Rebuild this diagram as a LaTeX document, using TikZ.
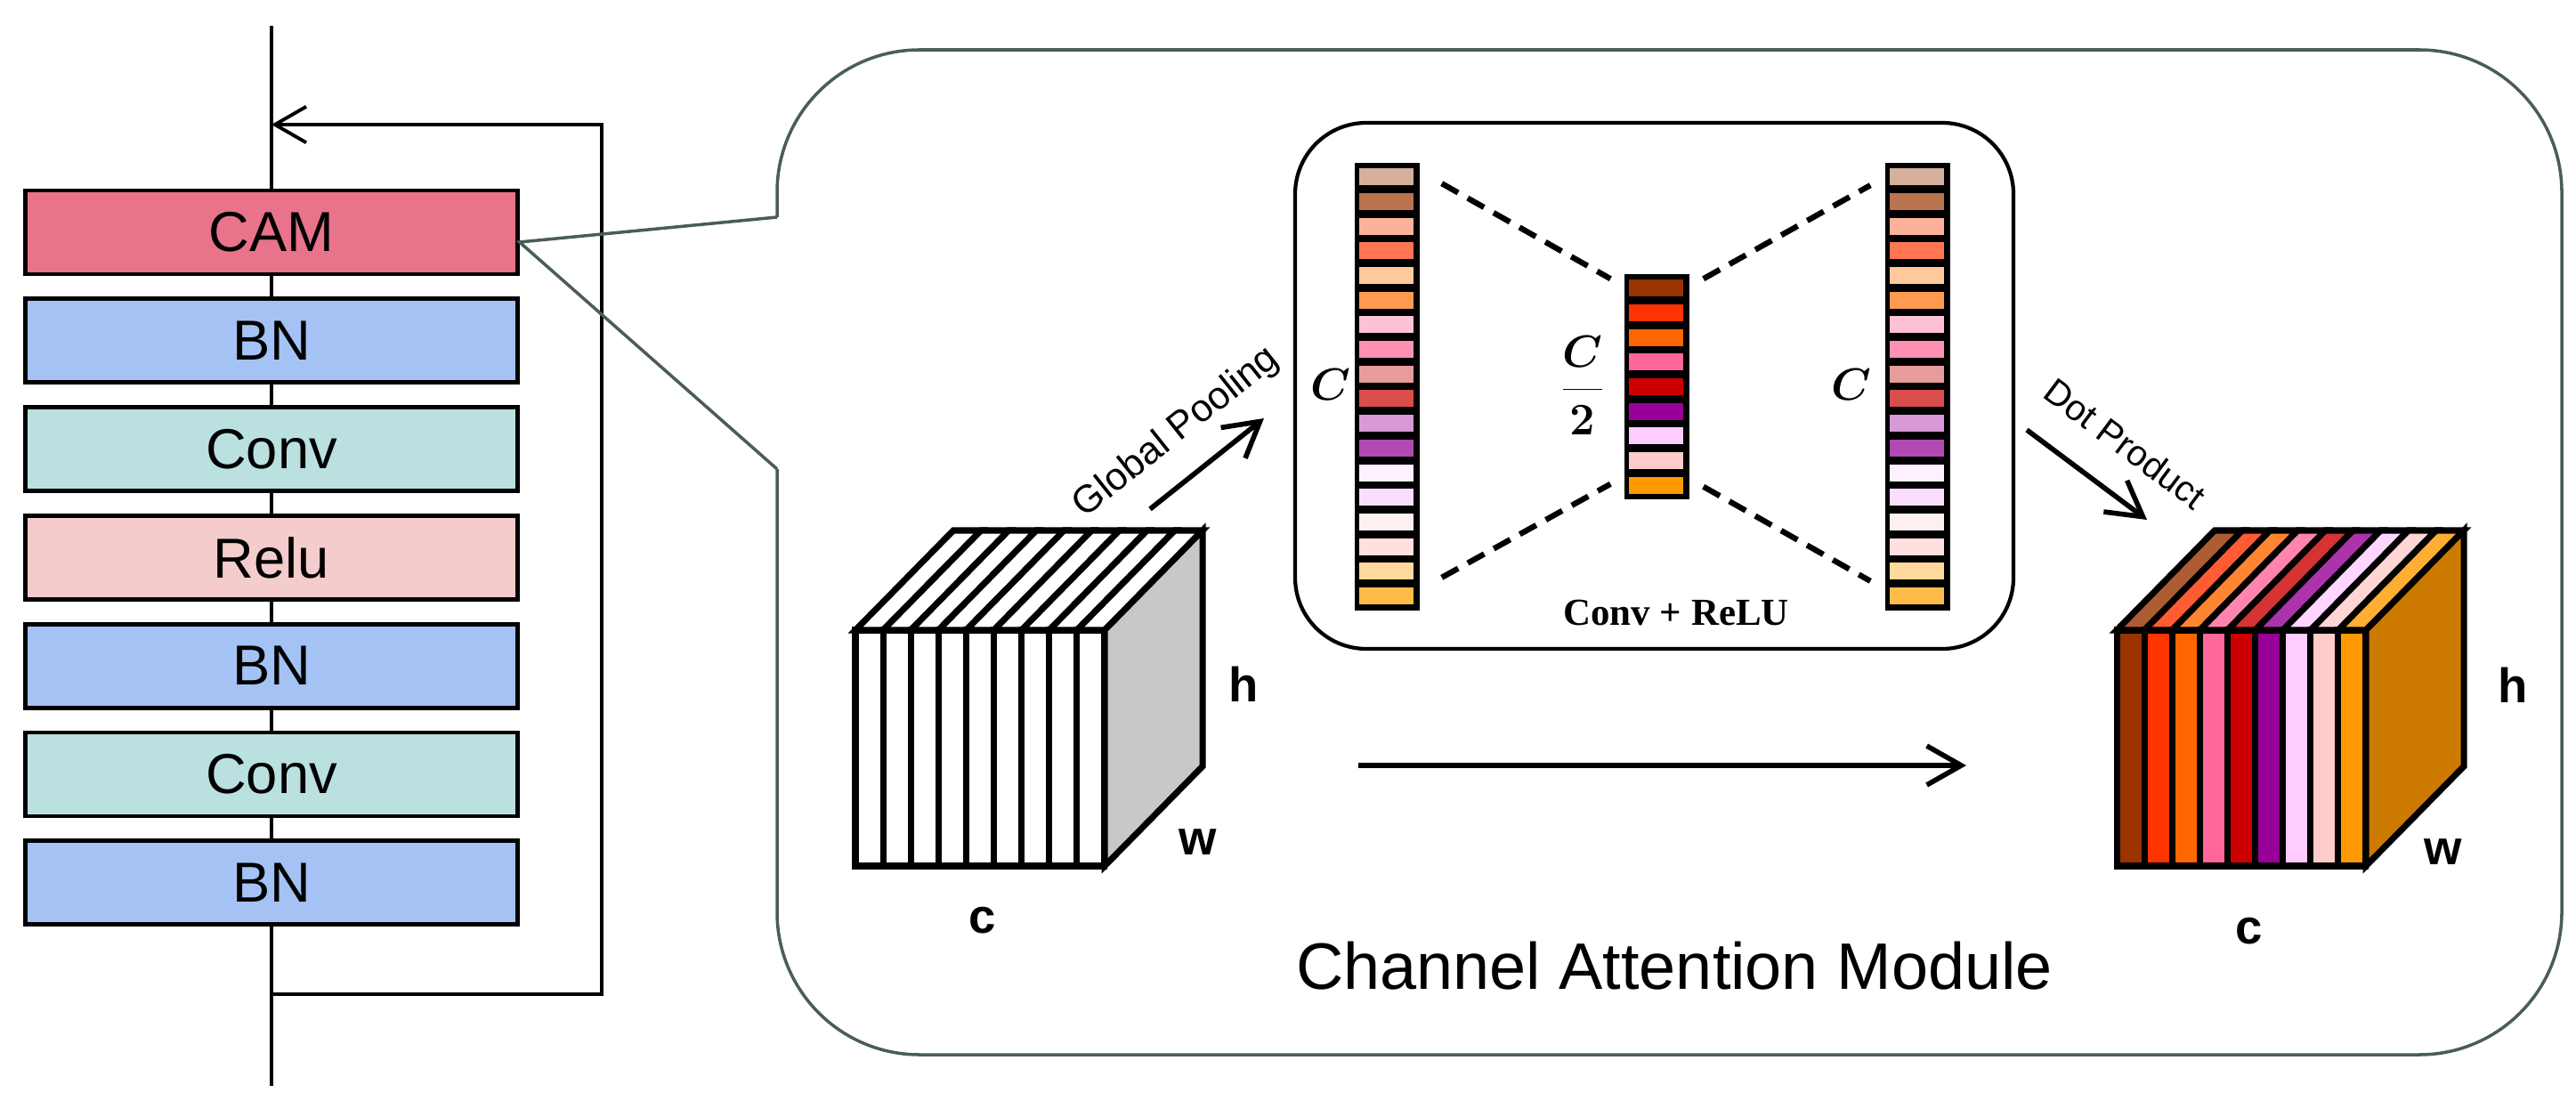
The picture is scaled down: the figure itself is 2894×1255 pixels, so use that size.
\documentclass[tikz,border=0pt]{standalone}
\usepackage{fontspec}
\setmainfont{Liberation Sans}
\newfontfamily\serifbold{Liberation Serif}
\usetikzlibrary{arrows.meta,calc}

\definecolor{camred}{HTML}{E8738A}
\definecolor{bnblue}{HTML}{A4C2F4}
\definecolor{convteal}{HTML}{BAE1E0}
\definecolor{relupink}{HTML}{F4CCCC}
\definecolor{calloutgray}{HTML}{4A5C5C}
\definecolor{sidegray}{HTML}{C8C8C8}
\definecolor{sideorange}{HTML}{CC7A00}
% channel colours, long bars
\definecolor{lc1}{HTML}{D5B09C}
\definecolor{lc2}{HTML}{B9734F}
\definecolor{lc3}{HTML}{FCB19B}
\definecolor{lc4}{HTML}{FF7650}
\definecolor{lc5}{HTML}{FFC99B}
\definecolor{lc6}{HTML}{FF9A50}
\definecolor{lc7}{HTML}{FFC1D5}
\definecolor{lc8}{HTML}{FF91B2}
\definecolor{lc9}{HTML}{E89B9B}
\definecolor{lc10}{HTML}{DA4D4D}
\definecolor{lc11}{HTML}{D79AD7}
\definecolor{lc12}{HTML}{B04AB2}
\definecolor{lc13}{HTML}{FFF0FF}
\definecolor{lc14}{HTML}{FCDEFC}
\definecolor{lc15}{HTML}{FFF0F0}
\definecolor{lc16}{HTML}{FFDFDF}
\definecolor{lc17}{HTML}{FFDA9C}
\definecolor{lc18}{HTML}{FFBB4A}
% channel colours, short bar and output
\definecolor{mc1}{HTML}{993300}
\definecolor{mc2}{HTML}{FF3300}
\definecolor{mc3}{HTML}{FF6600}
\definecolor{mc4}{HTML}{FF6699}
\definecolor{mc5}{HTML}{CC0000}
\definecolor{mc6}{HTML}{990099}
\definecolor{mc7}{HTML}{FFCCFF}
\definecolor{mc8}{HTML}{FFCCCC}
\definecolor{mc9}{HTML}{FF9900}

\begin{document}
\begin{tikzpicture}[x=0.01cm,y=-0.01cm,
  layer/.style={draw,line width=1.4pt,minimum width=5.52cm,minimum height=0.94cm,inner sep=0pt,font=\fontsize{18}{18}\selectfont},
  flow/.style={line width=1.1pt},
  arr/.style={line width=1.6pt,-{Straight Barb[length=11pt,width=12.5pt]}},
  bar/.style={fill=black,minimum width=0.73cm,inner sep=0pt},
  dashline/.style={line width=1.8pt,dash pattern=on 6pt off 3.5pt},
  cube/.style={draw,line width=2pt,line join=miter},
  dim/.style={font=\bfseries\fontsize{15.5}{16}\selectfont},
  chan/.style={font=\fontsize{14.5}{16}\selectfont\boldmath}]
\useasboundingbox (0,0) rectangle (2894,1255);

% residual block
\foreach \n/\t/\c [count=\i from 0] in {cam/CAM/camred,bn1/BN/bnblue,cv1/Conv/convteal,relu/Relu/relupink,bn2/BN/bnblue,cv2/Conv/convteal,bn3/BN/bnblue}
  \node[layer,fill=\c] (\n) at (305,{261+121.8*\i}) {\t};
\coordinate (in) at (305,29);
\coordinate (out) at (305,1220);
\coordinate (split) at (305,1117);
\coordinate (merge) at (305,140);
\coordinate (fbr) at (676,140);
\draw[flow] (in) -- (cam) -- (bn1) -- (cv1) -- (relu) -- (bn2) -- (cv2) -- (bn3) -- (out);
\draw[flow,-{Straight Barb[length=10pt,width=11.5pt]}] (split) -| (fbr) -- (merge);

% callout
\coordinate (cs) at ($(cam.east)+(0,11)$);
\coordinate (notchtop) at (873,244);
\coordinate (notchbot) at (873,527);
\draw[calloutgray,line width=1pt,rounded corners=1.6cm] (notchtop) -- (873,56) -- (2878,56) -- (2878,1185) -- (873,1185) -- (notchbot);
\draw[calloutgray,line width=1pt] (notchtop) -- (cs) -- (notchbot);

% conv + relu box
\draw[line width=1.2pt,rounded corners=0.8cm] (1455,138) rectangle (2262,729);
\node[bar,minimum height=5.03cm] (lbar) at (1558.5,434.5) {};
\node[bar,minimum height=5.03cm] (rbar) at (2154.5,434.5) {};
\node[bar,minimum height=2.53cm] (mbar) at (1861.5,434.5) {};
\foreach \i in {1,...,18} {
  \fill[lc\i] ($(lbar.north west)+(6,{7+27.7*(\i-1)})$) rectangle ++(61,19);
  \fill[lc\i] ($(rbar.north west)+(6,{7+27.7*(\i-1)})$) rectangle ++(61,19);
}
\foreach \i in {1,...,9}
  \fill[mc\i] ($(mbar.north west)+(6,{7+27.7*(\i-1)})$) rectangle ++(61,19);
\draw[dashline] ($(lbar.north east)+(24,24)$) -- ($(mbar.north west)+(-15,6)$);
\draw[dashline] ($(mbar.north east)+(15,6)$) -- ($(rbar.north west)+(-16,26)$);
\draw[dashline] ($(lbar.south east)+(24,-38)$) -- ($(mbar.south west)+(-15,-18)$);
\draw[dashline] ($(mbar.south east)+(15,-15)$) -- ($(rbar.south west)+(-16,-34)$);
\node[chan] (cl) at (1495,432) {$C$};
\node[chan] (cr) at (2080,432) {$C$};
\node[chan] (chalf) at (1778,433) {$\displaystyle\frac{C}{2}$};
\node[font=\serifbold\bfseries\fontsize{12.2}{14}\selectfont] (convrelu) at (1883,689) {Conv + ReLU};

% input feature map
\begin{scope}[shift={(961,973)}]
  \foreach \i in {0,...,8} {
    \filldraw[cube,fill=white] ({31.1*\i},0) rectangle ++(31.1,-265);
    \filldraw[cube,fill=white] ({31.1*\i},-265) -- ++(31.1,0) -- ++(110,-112) -- ++(-31.1,0) -- cycle;
  }
  \filldraw[cube,fill=sidegray] (280,0) -- ++(110,-112) -- ++(0,-265) -- (280,-265) -- cycle;
  \node[dim] at (436,-204) {h};
  \node[dim] at (385,-27) {w};
  \node[dim] at (143,61) {c};
\end{scope}

% output feature map
\begin{scope}[shift={(2378,973)}]
  \foreach \i in {1,...,9} {
    \filldraw[cube,fill=mc\i] ({31.1*(\i-1)},0) rectangle ++(31.1,-265);
    \filldraw[cube,fill=mc\i!80!white] ({31.1*(\i-1)},-265) -- ++(31.1,0) -- ++(110,-112) -- ++(-31.1,0) -- cycle;
  }
  \filldraw[cube,fill=sideorange] (280,0) -- ++(110,-112) -- ++(0,-265) -- (280,-265) -- cycle;
  \node[dim] at (445,-203) {h};
  \node[dim] at (367,-16) {w};
  \node[dim] at (149,73) {c};
\end{scope}

\coordinate (gpa) at (1292,572);
\coordinate (gpb) at (1420,470);
\draw[arr] (gpa) -- node[sloped,above=4pt,pos=0.47,font=\fontsize{12.3}{14}\selectfont] {Global Pooling} (gpb);
\coordinate (dpa) at (2277,483);
\coordinate (dpb) at (2412,584);
\draw[arr] (dpa) -- node[sloped,above=7pt,pos=0.58,font=\fontsize{11.5}{14}\selectfont] {Dot Product} (dpb);
\coordinate (skipa) at (1526,860);
\coordinate (skipb) at (2209,860);
\draw[arr] (skipa) -- (skipb);
\node[font=\fontsize{21}{24}\selectfont] (title) at (1881,1085) {Channel Attention Module};
\end{tikzpicture}
\end{document}
